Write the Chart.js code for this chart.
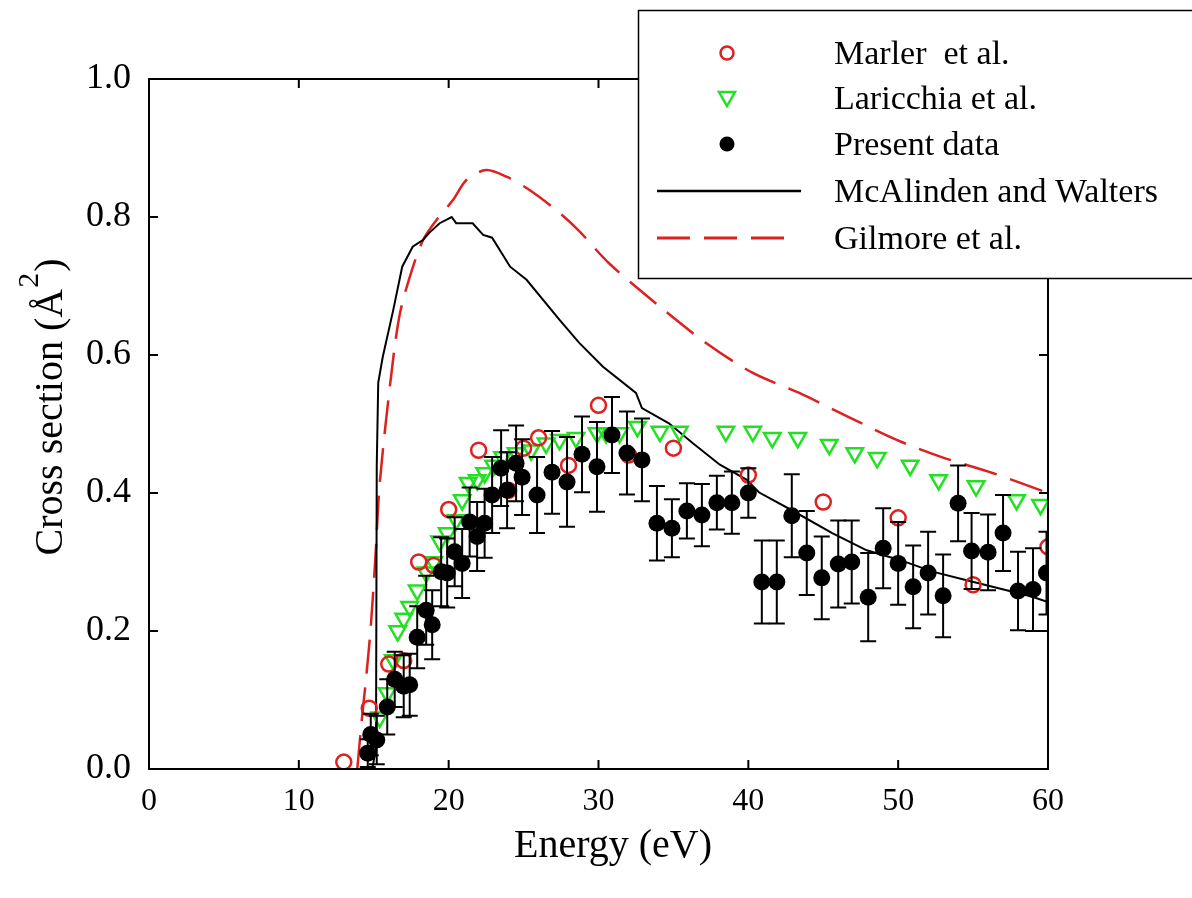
<!DOCTYPE html>
<html>
<head>
<meta charset="utf-8">
<script src="https://cdn.jsdelivr.net/npm/chart.js@4.4.1/dist/chart.umd.min.js"></script>
<style>
  html, body { margin: 0; padding: 0; background: #fff; }
  #contenedor { width: 1192px; height: 898px; }
</style>
</head>
<body>
<div id="contenedor"><canvas id="grafico" width="1192" height="898"></canvas></div>
<script>
// --- DATOS ---
const ejeXTicks = [0, 10, 20, 30, 40, 50, 60];
const ejeYTicks = [0.0, 0.2, 0.4, 0.6, 0.8, 1.0];

// Marler et al. (circulos rojos)
const marlerE  = [13, 14.7, 16, 17, 18, 19, 20, 22, 24, 25, 26, 28, 30, 32, 35, 40, 45, 50, 55, 60];
const marlerCs = [0.01, 0.088, 0.152, 0.157, 0.30, 0.295, 0.376, 0.462, 0.404, 0.465, 0.48, 0.44, 0.527, 0.455, 0.465, 0.426, 0.387, 0.364, 0.267, 0.322];

// Laricchia et al. (triangulos verdes)
const laricchiaE  = [15.4, 15.9, 16.3, 16.6, 17.0, 17.4, 17.9, 18.5, 19.0, 19.4, 19.9, 20.5, 20.9, 21.3, 21.9, 22.4, 23.0, 23.6, 24.5, 25.5,
                     26.5, 27.4, 28.5, 29.9, 30.5, 31.4, 32.6, 34.1, 35.4, 38.5, 40.3, 41.6, 43.3, 45.4, 47.1, 48.6, 50.8, 52.7, 55.2, 57.9, 59.5];
const laricchiaCs = [0.075, 0.11, 0.158, 0.20, 0.218, 0.235, 0.259, 0.285, 0.30, 0.33, 0.342, 0.361, 0.39, 0.415, 0.419, 0.429, 0.44, 0.452, 0.458, 0.462,
                     0.472, 0.477, 0.48, 0.487, 0.487, 0.487, 0.496, 0.489, 0.489, 0.489, 0.489, 0.48, 0.48, 0.47, 0.458, 0.451, 0.44, 0.419, 0.41, 0.39, 0.383];

// Present data (puntos negros con barras de error)
const presenteE   = [14.6, 14.8, 15.2, 15.9, 16.4, 17.0, 17.4, 17.9, 18.5, 18.9, 19.5, 19.9, 20.4, 20.9, 21.4, 21.9, 22.4, 22.9, 23.5, 23.9,
                     24.5, 24.9, 25.9, 26.9, 27.9, 28.9, 29.9, 30.9, 31.9, 32.9, 33.9, 34.9, 35.9, 36.9, 37.9, 38.9, 40.0, 40.9, 41.9, 42.9,
                     43.9, 44.9, 46.0, 46.9, 48.0, 49.0, 50.0, 51.0, 52.0, 53.0, 54.0, 54.9, 56.0, 57.0, 58.0, 59.0, 59.9];
const presenteCs  = [0.023, 0.05, 0.042, 0.09, 0.13, 0.12, 0.122, 0.191, 0.23, 0.209, 0.286, 0.284, 0.315, 0.298, 0.358, 0.337, 0.356, 0.397, 0.436, 0.404,
                     0.443, 0.423, 0.397, 0.43, 0.416, 0.456, 0.438, 0.484, 0.458, 0.448, 0.356, 0.349, 0.374, 0.368, 0.386, 0.386, 0.40, 0.271, 0.271, 0.367,
                     0.313, 0.277, 0.297, 0.30, 0.249, 0.32, 0.298, 0.264, 0.284, 0.251, 0.385, 0.316, 0.314, 0.342, 0.258, 0.26, 0.284];
const presenteErr = [0.02, 0.03, 0.035, 0.04, 0.04, 0.045, 0.045, 0.045, 0.05, 0.05, 0.05, 0.05, 0.05, 0.05, 0.05, 0.05, 0.05, 0.055, 0.055, 0.055,
                     0.055, 0.055, 0.055, 0.06, 0.065, 0.055, 0.065, 0.055, 0.06, 0.06, 0.054, 0.042, 0.04, 0.045, 0.039, 0.045, 0.036, 0.06, 0.06, 0.06,
                     0.061, 0.06, 0.063, 0.06, 0.064, 0.058, 0.06, 0.06, 0.06, 0.06, 0.055, 0.055, 0.055, 0.055, 0.057, 0.06, 0.06];

// McAlinden and Walters (linea negra)
const mcalindenE  = [14.9, 15.15, 15.2, 15.3, 15.6, 16.3, 16.9, 17.6, 18.3, 18.7, 19.4, 20.2, 20.5, 21.6, 22.3, 22.9, 24.1, 25.2, 27.4,
                     28.7, 30.3, 32.5, 32.9, 34.7, 36.3, 38.1, 39.9, 40.7, 42.9, 45.6, 47.9, 50.1, 52.3, 54.5, 56.7, 58.9, 60];
const mcalindenCs = [0, 0.03, 0.44, 0.56, 0.597, 0.665, 0.728, 0.757, 0.767, 0.777, 0.791, 0.80, 0.791, 0.791, 0.774, 0.77, 0.728, 0.709, 0.651,
                     0.618, 0.583, 0.545, 0.523, 0.501, 0.472, 0.441, 0.419, 0.401, 0.375, 0.342, 0.317, 0.303, 0.286, 0.274, 0.262, 0.25, 0.242];

// Gilmore et al. (linea roja discontinua)
const gilmoreE  = [13.9, 14.2, 14.5, 14.8, 15.1, 15.4, 16.1, 16.7, 17.4, 18.3, 19.2, 20.3, 21.2, 22.5, 23.9, 25.4, 27.4, 28.7, 30.7, 34.1,
                   37.2, 40.3, 43.4, 46.7, 49.9, 52.9, 56.3, 60];
const gilmoreCs = [0, 0.071, 0.134, 0.206, 0.303, 0.414, 0.559, 0.655, 0.713, 0.767, 0.796, 0.825, 0.854, 0.868, 0.858, 0.839, 0.806, 0.78, 0.733, 0.67,
                   0.617, 0.574, 0.545, 0.51, 0.477, 0.452, 0.429, 0.40];

const etiquetas = ['Marler  et al.', 'Laricchia et al.', 'Present data', 'McAlinden and Walters', 'Gilmore et al.'];

const ROJO = '#dd2020';
const VERDE = '#22e022';
const FUENTE = '"Liberation Serif", "Times New Roman", serif';

const aPuntos = (xs, ys) => xs.map((x, i) => ({ x: x, y: ys[i] }));

// --- PLUGIN: barras de error, marco, ticks internos, titulos y leyenda ---
const marcoPlugin = {
  id: 'marco',
  afterDatasetsDraw(chart) {
    const ctx = chart.ctx;
    const xs = chart.scales.x, ys = chart.scales.y;
    const area = chart.chartArea;
    ctx.save();
    ctx.beginPath();
    ctx.rect(area.left, area.top, area.right - area.left, area.bottom - area.top);
    ctx.clip();
    ctx.strokeStyle = '#000';
    ctx.lineWidth = 2;
    presenteE.forEach((e, i) => {
      const px = xs.getPixelForValue(e);
      const arriba = ys.getPixelForValue(presenteCs[i] + presenteErr[i]);
      const abajo = ys.getPixelForValue(Math.max(0, presenteCs[i] - presenteErr[i]));
      ctx.beginPath();
      ctx.moveTo(px, arriba); ctx.lineTo(px, abajo);
      ctx.moveTo(px - 8, arriba); ctx.lineTo(px + 8, arriba);
      ctx.moveTo(px - 8, abajo); ctx.lineTo(px + 8, abajo);
      ctx.stroke();
    });
    ctx.restore();
  },
  afterDraw(chart) {
    const ctx = chart.ctx;
    const xs = chart.scales.x, ys = chart.scales.y;
    const { left, right, top, bottom } = chart.chartArea;
    ctx.save();

    // marco
    ctx.strokeStyle = '#000';
    ctx.lineWidth = 2;
    ctx.strokeRect(left, top, right - left, bottom - top);

    // ticks hacia adentro
    ctx.beginPath();
    ejeXTicks.forEach(v => {
      const px = xs.getPixelForValue(v);
      ctx.moveTo(px, bottom); ctx.lineTo(px, bottom - 9);
      ctx.moveTo(px, top); ctx.lineTo(px, top + 9);
    });
    ejeYTicks.forEach(v => {
      const py = ys.getPixelForValue(v);
      ctx.moveTo(left, py); ctx.lineTo(left + 9, py);
      ctx.moveTo(right, py); ctx.lineTo(right - 9, py);
    });
    ctx.stroke();

    // titulo eje X
    ctx.fillStyle = '#000';
    ctx.font = '40px ' + FUENTE;
    ctx.textAlign = 'center';
    ctx.textBaseline = 'alphabetic';
    ctx.fillText('Energy (eV)', 613, 857);

    // titulo eje Y con superindice
    ctx.save();
    ctx.translate(62, 407);
    ctx.rotate(-Math.PI / 2);
    ctx.textAlign = 'left';
    const t1 = 'Cross section (\u00C5', t2 = '2', t3 = ')';
    ctx.font = '40px ' + FUENTE;
    const w1 = ctx.measureText(t1).width, w3 = ctx.measureText(t3).width;
    ctx.font = '30px ' + FUENTE;
    const w2 = ctx.measureText(t2).width;
    const x0 = -(w1 + w2 + w3 + 2) / 2;
    ctx.font = '40px ' + FUENTE;
    ctx.fillText(t1, x0, 0);
    ctx.font = '30px ' + FUENTE;
    ctx.fillText(t2, x0 + w1 + 1, -24);
    ctx.font = '40px ' + FUENTE;
    ctx.fillText(t3, x0 + w1 + w2 + 2, 0);
    ctx.restore();

    // leyenda
    ctx.fillStyle = '#fff';
    ctx.fillRect(638, 10, 600, 268);
    ctx.strokeStyle = '#000';
    ctx.lineWidth = 1.5;
    ctx.strokeRect(638.5, 10.5, 600, 268);

    const filas = [53, 98, 144, 191, 238];
    const sx = 727;
    // circulo rojo
    ctx.strokeStyle = ROJO; ctx.lineWidth = 2.5;
    ctx.beginPath(); ctx.arc(sx, filas[0], 6.5, 0, Math.PI * 2); ctx.stroke();
    // triangulo verde
    ctx.strokeStyle = VERDE; ctx.lineWidth = 2.5;
    ctx.beginPath();
    ctx.moveTo(sx - 8, filas[1] - 6); ctx.lineTo(sx + 8, filas[1] - 6); ctx.lineTo(sx, filas[1] + 8); ctx.closePath();
    ctx.stroke();
    // punto negro
    ctx.fillStyle = '#000';
    ctx.beginPath(); ctx.arc(sx, filas[2], 7.5, 0, Math.PI * 2); ctx.fill();
    // linea negra
    ctx.strokeStyle = '#000'; ctx.lineWidth = 2.5;
    ctx.beginPath(); ctx.moveTo(657, filas[3]); ctx.lineTo(801, filas[3]); ctx.stroke();
    // linea roja discontinua
    ctx.strokeStyle = ROJO; ctx.lineWidth = 3;
    ctx.setLineDash([33, 14]);
    ctx.beginPath(); ctx.moveTo(657, filas[4]); ctx.lineTo(790, filas[4]); ctx.stroke();
    ctx.setLineDash([]);

    ctx.fillStyle = '#000';
    ctx.font = '34px ' + FUENTE;
    ctx.textAlign = 'left';
    ctx.textBaseline = 'middle';
    etiquetas.forEach((txt, i) => ctx.fillText(txt, 834, filas[i] + 2));

    ctx.restore();
  }
};

const ctx = document.getElementById('grafico').getContext('2d');

const graficoChart = new Chart(ctx, {
  type: 'scatter',
  data: {
    datasets: [
      {
        label: etiquetas[2],
        data: aPuntos(presenteE, presenteCs),
        pointStyle: 'circle',
        pointRadius: 8.5,
        backgroundColor: '#000',
        borderColor: '#000',
        borderWidth: 0
      },
      {
        label: etiquetas[0],
        data: aPuntos(marlerE, marlerCs),
        pointStyle: 'circle',
        pointRadius: 7.5,
        backgroundColor: 'transparent',
        borderColor: ROJO,
        borderWidth: 2.5
      },
      {
        label: etiquetas[1],
        data: aPuntos(laricchiaE, laricchiaCs),
        pointStyle: 'triangle',
        pointRotation: 180,
        pointRadius: 9.5,
        backgroundColor: 'transparent',
        borderColor: VERDE,
        borderWidth: 2.5
      },
      {
        label: etiquetas[3],
        data: aPuntos(mcalindenE, mcalindenCs),
        showLine: true,
        pointRadius: 0,
        borderColor: '#000',
        borderWidth: 2,
        tension: 0
      },
      {
        label: etiquetas[4],
        data: aPuntos(gilmoreE, gilmoreCs),
        showLine: true,
        pointRadius: 0,
        borderColor: ROJO,
        borderWidth: 2.5,
        borderDash: [34, 14],
        tension: 0.3
      }
    ]
  },
  options: {
    responsive: false,
    animation: false,
    events: [],
    layout: { padding: { top: 79, right: 144, left: 0, bottom: 0 } },
    plugins: {
      legend: { display: false },
      tooltip: { enabled: false }
    },
    scales: {
      x: {
        type: 'linear',
        min: 0,
        max: 60,
        afterFit: s => { s.height = 129; },
        afterBuildTicks: s => { s.ticks = ejeXTicks.map(v => ({ value: v })); },
        ticks: { color: '#000', padding: 13, font: { family: FUENTE, size: 32 }, maxRotation: 0 },
        grid: { display: false, drawTicks: false },
        border: { display: false }
      },
      y: {
        type: 'linear',
        min: 0,
        max: 1,
        afterFit: s => { s.width = 149; },
        afterBuildTicks: s => { s.ticks = ejeYTicks.map(v => ({ value: v })); },
        ticks: { color: '#000', padding: 18, font: { family: FUENTE, size: 36 }, callback: v => v.toFixed(1) },
        grid: { display: false, drawTicks: false },
        border: { display: false }
      }
    }
  },
  plugins: [marcoPlugin]
});
</script>
</body>
</html>
